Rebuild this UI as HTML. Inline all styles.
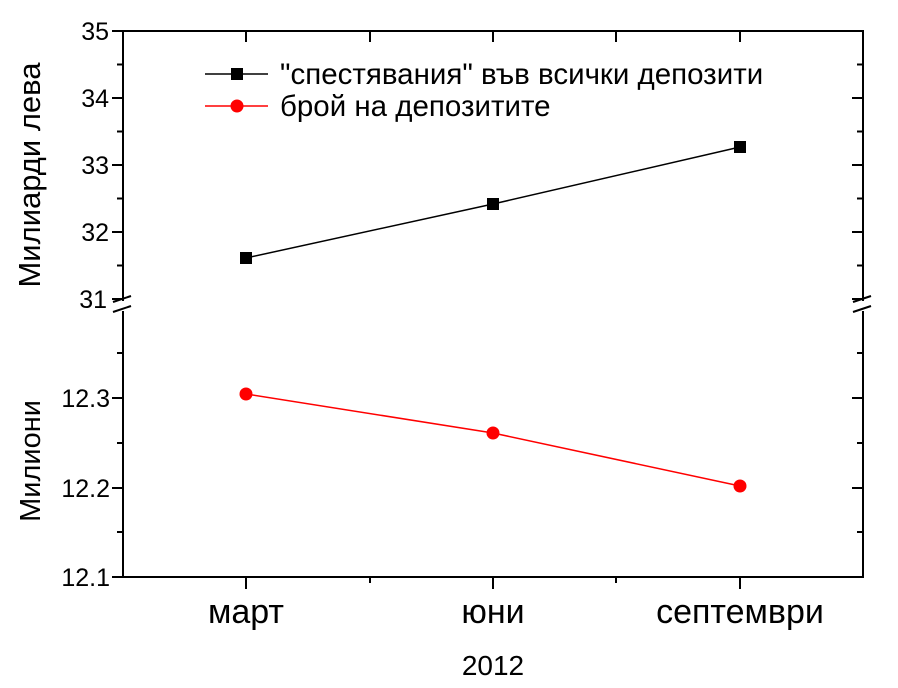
<!DOCTYPE html>
<html><head><meta charset="utf-8"><style>body{margin:0;background:#fff}svg{display:block}text{font-family:"Liberation Sans",sans-serif;fill:#000}</style></head>
<body>
<svg width="898" height="688" viewBox="0 0 898 688">
<g stroke="#000" stroke-width="2" fill="none">
<line x1="122" y1="31" x2="864" y2="31"/>
<line x1="122" y1="577" x2="864" y2="577"/>
<line x1="123" y1="31" x2="123" y2="301"/>
<line x1="123" y1="311" x2="123" y2="578"/>
<line x1="863" y1="31" x2="863" y2="301"/>
<line x1="863" y1="311" x2="863" y2="578"/>
<line x1="113" y1="302" x2="131" y2="296"/><line x1="113" y1="312" x2="131" y2="306"/>
<line x1="853" y1="302" x2="871" y2="296"/><line x1="853" y1="312" x2="871" y2="306"/>
<path d="M112 31H123M112 98H123M112 165H123M112 232H123M112 299H123M117 64.5H123M117 131.5H123M117 198.5H123M117 265.5H123"/>
<path d="M112 398H123M112 488H123M112 577H123M117 353H123M117 443H123M117 532H123"/>
<path d="M863 98H852M863 165H852M863 232H852M863 64.5H857M863 131.5H857M863 198.5H857M863 265.5H857M863 299H852"/>
<path d="M863 398H852M863 488H852M863 353H857M863 443H857M863 532H857"/>
<path d="M246 577V589M493 577V589M740 577V589M370 577V583M616 577V583"/>
<path d="M246 31V42M493 31V42M740 31V42M370 31V42M616 31V42"/>
</g>
<polyline points="246,258 493,204 740,147" stroke="#000" stroke-width="1.5" fill="none"/>
<g fill="#000"><rect x="240" y="252" width="12" height="12"/><rect x="487" y="198" width="12" height="12"/><rect x="734" y="141" width="12" height="12"/></g>
<polyline points="246,394 493,433 740,486" stroke="#f00" stroke-width="1.5" fill="none"/>
<g fill="#f00"><circle cx="246" cy="394" r="6.5"/><circle cx="493" cy="433" r="6.5"/><circle cx="740" cy="486" r="6.5"/></g>
<line x1="205" y1="74" x2="268" y2="74" stroke="#000" stroke-width="1.5"/><rect x="231" y="68" width="12" height="12" fill="#000"/>
<line x1="205" y1="106" x2="268" y2="106" stroke="#f00" stroke-width="1.5"/><circle cx="237" cy="106" r="6.5" fill="#f00"/>
<text x="280" y="84" font-size="29.5">"спестявания" във всички депозити</text>
<text x="280" y="116" font-size="29.5">брой на депозитите</text>
<g font-size="25" text-anchor="end">
<text x="109" y="40">35</text><text x="109" y="107">34</text><text x="109" y="174">33</text><text x="109" y="241">32</text><text x="107" y="308">31</text>
<text x="110" y="407">12.3</text><text x="110" y="497">12.2</text><text x="110" y="586">12.1</text>
</g>
<g font-size="34" text-anchor="middle">
<text x="246" y="623">март</text><text x="493" y="623">юни</text><text x="740" y="623">септември</text>
</g>
<text x="493" y="675" font-size="28" text-anchor="middle">2012</text>
<text transform="translate(40,175) rotate(-90)" font-size="31" text-anchor="middle">Милиарди лева</text>
<text transform="translate(40,461) rotate(-90)" font-size="29" text-anchor="middle">Милиони</text>
</svg>
</body></html>
